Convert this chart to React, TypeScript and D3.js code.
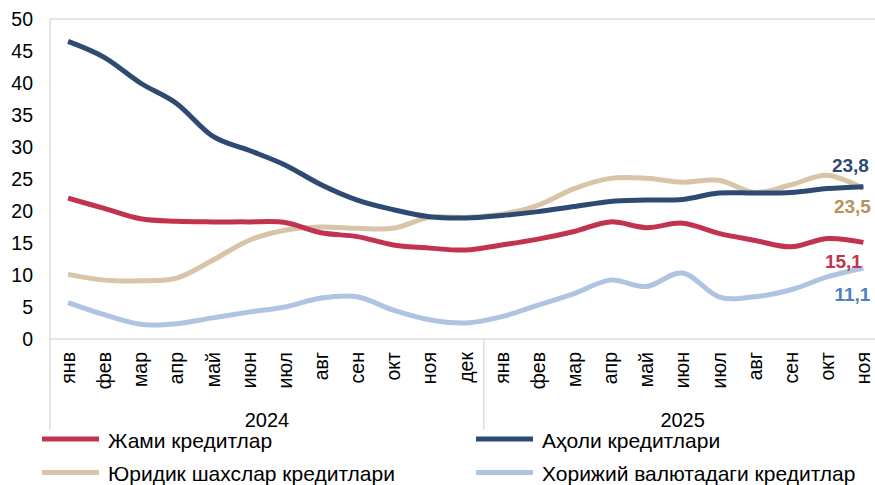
import React, { useEffect, useRef } from 'react';
import * as d3 from 'd3';

const months = ['янв', 'фев', 'мар', 'апр', 'май', 'июн', 'июл', 'авг', 'сен', 'окт', 'ноя', 'дек'];
const years = ['2024', '2025'];
// 2024: 12 months, 2025: 11 months
const categories = [
  ...months.map((m) => `2024-${m}`),
  ...months.slice(0, 11).map((m) => `2025-${m}`),
];

const total = [22.0, 20.4, 18.8, 18.4, 18.3, 18.3, 18.2, 16.6, 16.0, 14.7, 14.2, 13.9, 14.7, 15.6, 16.8, 18.3, 17.4, 18.1, 16.5, 15.4, 14.4, 15.7, 15.1];
const households = [46.5, 44.0, 40.0, 36.8, 31.7, 29.5, 27.2, 24.1, 21.7, 20.2, 19.1, 18.9, 19.3, 19.9, 20.7, 21.5, 21.7, 21.8, 22.8, 22.8, 22.9, 23.5, 23.8];
const legal = [10.1, 9.2, 9.1, 9.5, 12.3, 15.4, 17.0, 17.5, 17.3, 17.3, 19.0, 19.0, 19.5, 20.9, 23.5, 25.1, 25.1, 24.5, 24.8, 22.9, 24.1, 25.6, 23.5];
const foreign = [5.7, 3.8, 2.3, 2.4, 3.3, 4.2, 5.0, 6.4, 6.6, 4.5, 3.0, 2.5, 3.5, 5.3, 7.1, 9.2, 8.2, 10.3, 6.6, 6.6, 7.7, 9.7, 11.1];

const yTicks = [0, 5, 10, 15, 20, 25, 30, 35, 40, 45, 50];

const series = [
  { name: 'Жами кредитлар', values: total, color: '#C1334F', labelColor: '#C1334F', label: '15,1', dx: -20, dy: 26 },
  { name: 'Аҳоли кредитлари', values: households, color: '#2D4A72', labelColor: '#2D4A72', label: '23,8', dx: -13, dy: -15 },
  { name: 'Юридик шахслар кредитлари', values: legal, color: '#D8C4A6', labelColor: '#B8925C', label: '23,5', dx: -11, dy: 24 },
  { name: 'Хорижий валютадаги кредитлар', values: foreign, color: '#AFC4E1', labelColor: '#4F81C0', label: '11,1', dx: -11, dy: 33 },
];

const font = 'Liberation Sans, Arial, sans-serif';

export default function App() {
  const svgRef = useRef<SVGSVGElement>(null);

  useEffect(() => {
    const width = 875;
    const height = 485;
    const margin = { top: 19, left: 50, bottom: 146 };
    const step = 36.15;

    const svg = d3.select(svgRef.current);
    svg.selectAll('*').remove();
    svg.attr('width', width).attr('height', height);

    const x = d3.scaleBand<string>().domain(categories)
      .range([margin.left, margin.left + step * categories.length]);
    const y = d3.scaleLinear().domain([0, 50]).range([height - margin.bottom, margin.top]);
    const cx = (i: number) => (x(categories[i]) as number) + x.bandwidth() / 2;

    const right = margin.left + step * categories.length;
    const grey = '#D9D9D9';

    // plot border
    svg.append('rect')
      .attr('x', margin.left).attr('y', y(50))
      .attr('width', right - margin.left).attr('height', y(0) - y(50))
      .attr('fill', 'none').attr('stroke', grey).attr('stroke-width', 1.3);

    // y axis labels
    svg.append('g').selectAll('text').data(yTicks).join('text')
      .attr('x', 33).attr('y', (d) => y(d)).attr('dy', '0.35em')
      .attr('text-anchor', 'end').attr('font-family', font).attr('font-size', 19.5)
      .attr('fill', '#000').text((d) => d);

    // group separators
    const seps = [0, 12, 23];
    svg.append('g').selectAll('line').data(seps).join('line')
      .attr('x1', (d) => margin.left + d * step).attr('x2', (d) => margin.left + d * step)
      .attr('y1', y(0)).attr('y2', 430)
      .attr('stroke', grey).attr('stroke-width', 1.3);

    // month labels
    svg.append('g').selectAll('text').data(categories).join('text')
      .attr('transform', (_d, i) => `translate(${cx(i)},352) rotate(-90)`)
      .attr('text-anchor', 'end').attr('dy', '0.35em')
      .attr('font-family', font).attr('font-size', 19.5).attr('fill', '#000')
      .text((d) => d.split('-')[1]);

    // year labels
    svg.append('g').selectAll('text').data(years).join('text')
      .attr('x', (_d, i) => (i === 0 ? (cx(0) + cx(11)) / 2 : (cx(12) + cx(22)) / 2))
      .attr('y', 426.5).attr('text-anchor', 'middle')
      .attr('font-family', font).attr('font-size', 20).attr('fill', '#000')
      .text((d) => d);

    // lines
    const line = d3.line<number>()
      .x((_d, i) => cx(i))
      .y((d) => y(d))
      .curve(d3.curveCatmullRom.alpha(0));

    const order = [3, 2, 1, 0];
    order.forEach((k) => {
      const s = series[k];
      svg.append('path').attr('d', line(s.values) as string)
        .attr('fill', 'none').attr('stroke', s.color).attr('stroke-width', 5)
        .attr('stroke-linejoin', 'round');
    });

    // end labels
    series.forEach((s) => {
      const last = s.values.length - 1;
      svg.append('text')
        .attr('x', cx(last) + s.dx).attr('y', y(s.values[last]) + s.dy)
        .attr('text-anchor', 'middle')
        .attr('font-family', font).attr('font-size', 19).attr('font-weight', 'bold')
        .attr('fill', s.labelColor).text(s.label);
    });

    // legend
    const legendPos = [
      { x: 42, y: 439 }, { x: 476, y: 439 },
      { x: 42, y: 472.5 }, { x: 476, y: 472.5 },
    ];
    const lg = svg.append('g');
    series.forEach((s, i) => {
      const p = legendPos[i];
      lg.append('line').attr('x1', p.x).attr('x2', p.x + 57)
        .attr('y1', p.y).attr('y2', p.y)
        .attr('stroke', s.color).attr('stroke-width', 5);
      lg.append('text').attr('x', p.x + 66).attr('y', p.y + 1.5).attr('dy', '0.35em')
        .attr('font-family', font).attr('font-size', 21).attr('fill', '#000')
        .text(s.name);
    });
  }, []);

  return (
    <div style={{ position: 'absolute', left: 0, top: 0, width: 875, height: 485, overflow: 'hidden', background: '#fff' }}>
      <svg ref={svgRef} style={{ display: 'block' }} />
    </div>
  );
}
